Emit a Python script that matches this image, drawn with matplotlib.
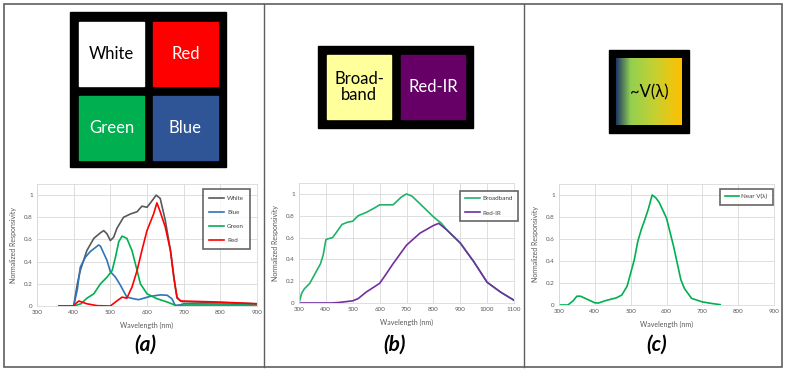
import matplotlib.pyplot as plt
import matplotlib
import numpy as np
from matplotlib.patches import Rectangle
from matplotlib.colors import LinearSegmentedColormap

matplotlib.rcParams['font.family'] = ['Lato', 'DejaVu Sans']

# ---- data (a) ----
wl_white = [360, 400, 410, 418, 436, 455, 473, 482, 491, 500, 509, 518, 536, 555, 573, 586,
            600, 614, 625, 636, 650, 664, 677, 682, 695, 750, 800, 850, 900]
white = [0, 0, 0.2, 0.32, 0.5, 0.61, 0.66, 0.68, 0.65, 0.59, 0.62, 0.70, 0.80, 0.83, 0.85, 0.90,
         0.89, 0.95, 1.0, 0.97, 0.77, 0.50, 0.17, 0.07, 0.04, 0.035, 0.03, 0.025, 0.02]

wl_blue = [360, 400, 410, 418, 432, 445, 468, 473, 491, 500, 514, 527, 545, 564, 577, 609,
           636, 655, 668, 677, 690, 700, 800, 900]
blue = [0, 0, 0.15, 0.35, 0.44, 0.49, 0.55, 0.54, 0.41, 0.31, 0.26, 0.19, 0.08, 0.065, 0.057, 0.087,
        0.10, 0.097, 0.065, 0.005, 0.01, 0.02, 0.018, 0.015]

wl_green = [360, 400, 420, 436, 455, 473, 491, 505, 514, 523, 532, 545, 559, 573, 582, 600,
            627, 655, 673, 682, 700, 800, 900]
green = [0, 0, 0.02, 0.07, 0.11, 0.20, 0.26, 0.32, 0.44, 0.58, 0.63, 0.61, 0.50, 0.32, 0.20, 0.11,
         0.066, 0.036, 0.012, 0.0, 0.008, 0.008, 0.008]

wl_red = [360, 400, 405, 414, 436, 464, 500, 514, 532, 545, 559, 573, 586, 600, 618, 627,
          636, 650, 664, 673, 682, 691, 750, 800, 850, 900]
red = [0, 0, 0.02, 0.045, 0.02, 0.003, 0, 0.036, 0.08, 0.07, 0.17, 0.32, 0.50, 0.68, 0.83, 0.93,
       0.85, 0.71, 0.50, 0.26, 0.08, 0.045, 0.04, 0.035, 0.028, 0.02]

# ---- data (b) ----
wl_bb = [300, 310, 320, 340, 360, 380, 390, 400, 410, 425, 440, 460, 480, 500, 520, 550,
         580, 600, 620, 650, 680, 700, 720, 750, 800, 830, 850, 875, 900, 950, 1000, 1050, 1100]
broadband = [0, 0.09, 0.13, 0.18, 0.27, 0.36, 0.44, 0.58, 0.59, 0.60, 0.65, 0.72, 0.74, 0.75, 0.80, 0.83,
             0.87, 0.90, 0.90, 0.90, 0.97, 1.0, 0.98, 0.91, 0.79, 0.73, 0.67, 0.61, 0.55, 0.38, 0.19, 0.10, 0.025]

wl_rir = [300, 420, 450, 500, 520, 550, 600, 620, 650, 700, 750, 800, 820, 850, 900, 950,
          1000, 1050, 1100]
red_ir = [0, 0, 0.005, 0.02, 0.04, 0.10, 0.18, 0.25, 0.36, 0.53, 0.64, 0.71, 0.73, 0.67, 0.55, 0.38,
          0.19, 0.10, 0.025]

# ---- data (c) ----
wl_v = [300, 325, 340, 350, 360, 380, 400, 410, 430, 460, 475, 490, 500, 510, 520, 530,
        540, 550, 560, 570, 580, 600, 620, 640, 650, 670, 700, 730, 750]
near_v = [0, 0, 0.04, 0.08, 0.08, 0.05, 0.02, 0.018, 0.04, 0.065, 0.09, 0.17, 0.29, 0.41, 0.58, 0.69,
          0.78, 0.88, 1.0, 0.975, 0.93, 0.79, 0.53, 0.23, 0.15, 0.06, 0.028, 0.012, 0.003]

W, H = 787, 375
fig = plt.figure(figsize=(W / 100, H / 100), dpi=100)


def box(l, t, r, b):
    return [l / W, 1 - b / H, (r - l) / W, (b - t) / H]


# overlay for frame and the filter squares
ov = fig.add_axes([0, 0, 1, 1])
ov.set_xlim(0, W)
ov.set_ylim(H, 0)
ov.axis('off')

ov.add_patch(Rectangle((4, 4), 778, 363, fill=False, edgecolor='#5f5f5f', lw=1.2))
ov.plot([264, 264], [4, 367], color='#5f5f5f', lw=1.0)
ov.plot([524, 524], [4, 367], color='#5f5f5f', lw=1.0)

# (a) four filters
ov.add_patch(Rectangle((70, 12), 156, 155, color='black'))
cells = [(79, 22, '#FFFFFF', 'White', 'black'), (153, 22, '#FF0000', 'Red', 'white'),
         (79, 96, '#00B050', 'Green', 'white'), (153, 96, '#2F5597', 'Blue', 'white')]
for x, y, c, t, tc in cells:
    ov.add_patch(Rectangle((x, y), 65, 64, color=c))
    ov.text(x + 32.5, y + 32, t, ha='center', va='center', fontsize=12, color=tc)

# (b) two filters
ov.add_patch(Rectangle((318, 46), 155, 82, color='black'))
ov.add_patch(Rectangle((327, 55), 64, 64, color='#FFFF9B'))
ov.add_patch(Rectangle((401, 55), 64, 64, color='#660066'))
ov.text(359, 87, 'Broad-\nband', ha='center', va='center', fontsize=12, color='black', linespacing=1.0)
ov.text(433, 87, 'Red-IR', ha='center', va='center', fontsize=12, color='white')

# (c) V(lambda) filter
ov.add_patch(Rectangle((609, 50), 80, 83, color='black'))
cmap = LinearSegmentedColormap.from_list('v', [(0, '#1F3864'), (0.22, '#92D050'),
                                               (0.6, '#C8D030'), (1, '#FFC000')])
ov.imshow(np.linspace(0, 1, 200).reshape(1, -1), cmap=cmap, extent=(616, 682, 125, 58),
          aspect='auto', zorder=2)
ov.text(649, 92, '~V(λ)', ha='center', va='center', fontsize=12, color='black', zorder=3)

for x, t in [(145, '(a)'), (394, '(b)'), (657, '(c)')]:
    ov.text(x, 345, t, ha='center', va='center', fontsize=15, fontweight='bold', fontstyle='italic')


def style(ax, xmax):
    ax.set_xlim(300, xmax)
    ax.set_ylim(0, 1.1)
    ax.set_xticks(range(300, xmax + 1, 100))
    ax.set_yticks([0, 0.2, 0.4, 0.6, 0.8, 1.0])
    ax.set_yticklabels(['0', '0.2', '0.4', '0.6', '0.8', '1'])
    ax.grid(True, color='#D9D9D9', lw=0.6)
    ax.set_axisbelow(True)
    for s in ax.spines.values():
        s.set_color('#D9D9D9')
        s.set_linewidth(0.6)
    ax.tick_params(length=0, labelsize=4.5, labelcolor='#595959', pad=3)
    ax.set_xlabel('Wavelength (nm)', fontsize=5, color='#595959', labelpad=5)
    ax.set_ylabel('Normalized Responsivity', fontsize=5, color='#595959', labelpad=5)


def legend(ax, l, t, hl, bp=1.0):
    lg = ax.legend(loc='upper left', bbox_to_anchor=(l / W, 1 - t / H), bbox_transform=fig.transFigure,
                   fontsize=4.5, fancybox=False, edgecolor='#404040', handlelength=hl,
                   labelspacing=1.4, borderpad=bp, handletextpad=0.4, labelcolor='#404040')
    lg.get_frame().set_linewidth(1.2)


lw = 1.2
ax1 = fig.add_axes(box(37, 184, 257, 306))
ax1.plot(wl_white, white, color='#595959', lw=lw, label='White')
ax1.plot(wl_blue, blue, color='#2E75B6', lw=lw, label='Blue')
ax1.plot(wl_green, green, color='#00B050', lw=lw, label='Green')
ax1.plot(wl_red, red, color='#FF0000', lw=lw, label='Red')
style(ax1, 900)
legend(ax1, 200, 186, 2.4)

ax2 = fig.add_axes(box(299, 183, 514, 303))
ax2.plot(wl_bb, broadband, color='#22B16A', lw=lw, label='Broadband')
ax2.plot(wl_rir, red_ir, color='#7030A0', lw=lw, label='Red-IR')
style(ax2, 1100)
legend(ax2, 457, 188, 2.4, bp=0.8)

ax3 = fig.add_axes(box(559, 184, 774, 305))
ax3.plot(wl_v, near_v, color='#00B050', lw=lw, label='Near V(λ)')
style(ax3, 900)
legend(ax3, 717, 186, 2.2, bp=0.8)

fig.savefig('out.png', dpi=100)
